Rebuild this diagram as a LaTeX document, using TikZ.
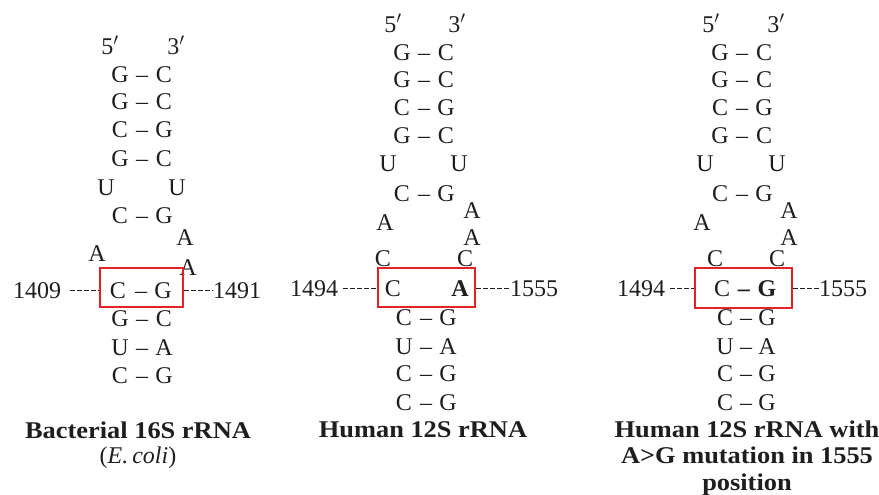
\documentclass[tikz,border=0pt]{standalone}
\usepackage{fontspec}
\setmainfont{Liberation Serif}
\newfontfamily\headfont[FakeStretch=1.1]{Liberation Serif}
\definecolor{ink}{RGB}{30,30,30}
\definecolor{boxred}{RGB}{226,34,40}
\begin{document}
\begin{tikzpicture}[x=1pt, y=-1pt,
    font=\fontsize{24}{28}\selectfont,
    every node/.style={inner sep=0pt, text=ink},
    nt/.style={anchor=base},
    hit/.style={draw=boxred, line width=2.6pt},
    ticks/.style={draw=ink, line width=0.9pt, dash pattern=on 5pt off 2pt},
    title/.style={anchor=base, align=center, font=\fontsize{24}{26}\selectfont\headfont\bfseries}]
\useasboundingbox (0,0) rectangle (879,495);

% bacterial 16S rRNA
\node[nt] (b5) at (110,55) {5$'$};
\node[nt] (b3) at (176,55) {3$'$};
\foreach \l/\r/\y [count=\i] in {G/C/83, G/C/110, C/G/138, G/C/166, C/G/223, G/C/326, U/A/355, C/G/383} {
    \node[nt] (bl\i) at (120,\y) {\l};
    \node[nt] (bd\i) at (142,\y) {--};
    \node[nt] (br\i) at (164,\y) {\r};
}
\node[nt] (bu1) at (106,195) {U};
\node[nt] (bu2) at (177,195) {U};
\node[nt] (ba1) at (185,245) {A};
\node[nt] (ba2) at (97,261) {A};
\node[nt] (ba3) at (188,275) {A};
\node[nt] (bc) at (118,298) {C};
\node[nt] (bm) at (141,298) {--};
\node[nt] (bg) at (163,298) {G};
\node[hit, minimum width=83pt, minimum height=39pt] (box1) at (141.5,287.5) {};
\node[nt] (n1409) at (37,298) {1409};
\node[nt] (n1491) at (237,298) {1491};
\draw[ticks, shorten <=9pt] (n1409.east) -- (n1409.east -| box1.west);
\draw[ticks] (n1491.west -| box1.east) -- (n1491.west);
\node[title] (t1) at (138,463) {Bacterial 16S rRNA\\[-1pt]\normalfont(\textit{E.\,coli})};

% human 12S rRNA
\node[nt] (h5) at (393,33) {5$'$};
\node[nt] (h3) at (457,33) {3$'$};
\foreach \l/\r/\y [count=\i] in {G/C/61, G/C/88, C/G/115, G/C/143, C/G/201} {
    \node[nt] (hl\i) at (402,\y) {\l};
    \node[nt] (hd\i) at (424,\y) {--};
    \node[nt] (hr\i) at (446,\y) {\r};
}
\foreach \l/\r/\y [count=\i] in {C/G/325, U/A/354, C/G/381, C/G/410} {
    \node[nt] (hk\i) at (404,\y) {\l};
    \node[nt] (he\i) at (426,\y) {--};
    \node[nt] (hs\i) at (448,\y) {\r};
}
\node[nt] (hu1) at (388,171) {U};
\node[nt] (hu2) at (459,171) {U};
\node[nt] (ha1) at (472,218) {A};
\node[nt] (ha2) at (385,230) {A};
\node[nt] (ha3) at (472,245) {A};
\node[nt] (hc1) at (383,266) {C};
\node[nt] (hc2) at (465,266) {C};
\node[nt] (hc) at (393,296) {C};
\node[nt] (ha) at (460,296) {\textbf{A}};
\node[hit, minimum width=97pt, minimum height=39pt] (box2) at (426.5,287.5) {};
\node[nt] (n1494) at (314,296) {1494};
\node[nt] (n1555) at (534,296) {1555};
\draw[ticks, shorten <=5pt] (n1494.east) -- (n1494.east -| box2.west);
\draw[ticks] (n1555.west -| box2.east) -- (n1555.west);
\node[title] (t2) at (423,437) {Human 12S rRNA};

% human 12S rRNA, A>G mutation
\node[nt] (m5) at (711,33) {5$'$};
\node[nt] (m3) at (776,33) {3$'$};
\foreach \l/\r/\y [count=\i] in {G/C/61, G/C/88, C/G/115, G/C/143, C/G/201} {
    \node[nt] (ml\i) at (720,\y) {\l};
    \node[nt] (md\i) at (742,\y) {--};
    \node[nt] (mr\i) at (764,\y) {\r};
}
\foreach \l/\r/\y [count=\i] in {C/G/325, U/A/354, C/G/381, C/G/410} {
    \node[nt] (mk\i) at (725,\y) {\l};
    \node[nt] (me\i) at (746,\y) {--};
    \node[nt] (ms\i) at (767,\y) {\r};
}
\node[nt] (mu1) at (705,171) {U};
\node[nt] (mu2) at (777,171) {U};
\node[nt] (ma1) at (789,218) {A};
\node[nt] (ma2) at (702,230) {A};
\node[nt] (ma3) at (789,245) {A};
\node[nt] (mc1) at (715,266) {C};
\node[nt] (mc2) at (777,266) {C};
\node[nt] (mc) at (722,296) {C};
\node[nt] (mm) at (744,296) {\textbf{--}};
\node[nt] (mg) at (767,296) {\textbf{G}};
\node[hit, minimum width=97pt, minimum height=40pt] (box3) at (743.5,288) {};
\node[nt] (m1494) at (641,296) {1494};
\node[nt] (m1555) at (843,296) {1555};
\draw[ticks, shorten <=5pt] (m1494.east) -- (m1494.east -| box3.west);
\draw[ticks] (m1555.west -| box3.east) -- (m1555.west);
\node[title] (t3) at (747,490) {Human 12S rRNA with\\[0.5pt]A>G mutation in 1555\\[0.5pt]position};
\end{tikzpicture}
\end{document}
